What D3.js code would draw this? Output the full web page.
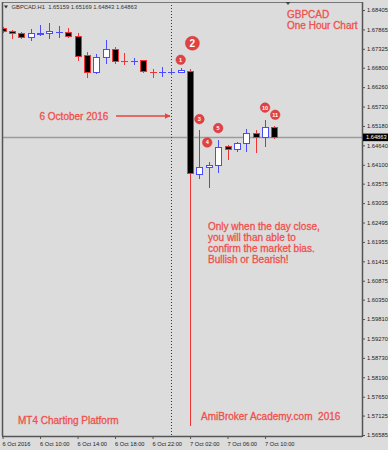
<!DOCTYPE html>
<html><head><meta charset="utf-8">
<script src="https://cdn.jsdelivr.net/npm/d3@7"></script>
<style>
html,body{margin:0;padding:0;background:#dcdcdc;}
svg{display:block;font-family:"Liberation Sans",Arial,sans-serif;}
</style></head>
<body>
<script>
// ---- data ----
const times = ["2016-10-06T06:00","2016-10-06T07:00","2016-10-06T08:00","2016-10-06T09:00","2016-10-06T10:00",
"2016-10-06T11:00","2016-10-06T12:00","2016-10-06T13:00","2016-10-06T14:00","2016-10-06T15:00",
"2016-10-06T16:00","2016-10-06T17:00","2016-10-06T18:00","2016-10-06T19:00","2016-10-06T20:00",
"2016-10-06T21:00","2016-10-06T22:00","2016-10-06T23:00","2016-10-07T00:00","2016-10-07T01:00",
"2016-10-07T02:00","2016-10-07T03:00","2016-10-07T04:00","2016-10-07T05:00","2016-10-07T06:00",
"2016-10-07T07:00","2016-10-07T08:00","2016-10-07T09:00","2016-10-07T10:00","2016-10-07T11:00"];
const open  = [1.6790,1.6782,1.6777,1.6765,1.6775,1.6776,1.6778,1.6779,1.6768,1.6715,1.6668,1.6710,1.6732,1.6699,1.6698,1.6701,1.6669,1.6668,1.6668,1.6668,1.6672,1.6384,1.6403,1.6410,1.6462,1.6455,1.6470,1.6498,1.6486,1.65159];
const high  = [1.6793,1.6785,1.6778,1.6788,1.6799,1.6804,1.6796,1.6790,1.6777,1.6724,1.6718,1.6757,1.6738,1.6721,1.6707,1.6702,1.6677,1.6682,1.6679,1.6679,1.6676,1.6507,1.6419,1.6479,1.6465,1.6474,1.6510,1.6507,1.6535,1.65169];
const low   = [1.6779,1.6763,1.6764,1.6757,1.6772,1.6763,1.6765,1.6765,1.6702,1.6654,1.6665,1.6693,1.6693,1.6690,1.6690,1.6668,1.6654,1.6657,1.6663,1.6668,1.5685,1.6373,1.6348,1.6389,1.6425,1.6449,1.6449,1.6445,1.6462,1.64843];
const close = [1.6782,1.6777,1.6765,1.6777,1.6776,1.6782,1.6779,1.6768,1.6713,1.6668,1.6710,1.6732,1.6699,1.6698,1.6699,1.6671,1.6668,1.6669,1.6669,1.6674,1.6387,1.6405,1.6410,1.6460,1.6455,1.6470,1.6498,1.6486,1.6516,1.64863];
const priceTicks = [1.68405,1.67865,1.67325,1.66800,1.66260,1.65720,1.65180,1.64640,1.64100,1.63575,1.63035,1.62495,1.61955,1.61415,1.60875,1.60350,1.59810,1.59270,1.58730,1.58190,1.57650,1.57125,1.56585];
const timeTicks = ["2016-10-06T06:00","2016-10-06T10:00","2016-10-06T14:00","2016-10-06T18:00","2016-10-06T22:00","2016-10-07T02:00","2016-10-07T06:00","2016-10-07T10:00"];
const timeTickLabels = ["6 Oct 2016","6 Oct 10:00","6 Oct 14:00","6 Oct 18:00","6 Oct 22:00","7 Oct 02:00","7 Oct 06:00","7 Oct 10:00"];
const markerLabels = ["1","2","3","4","5","10","11"];
const markerTimes  = ["2016-10-07T01:00","2016-10-07T02:15","2016-10-07T03:00","2016-10-07T03:50","2016-10-07T05:00","2016-10-07T10:00","2016-10-07T11:05"];
const markerPrices = [1.6702,1.6748,1.6537,1.6472,1.6512,1.6569,1.6549];
const symbol = "GBPCAD.H1";
const lastPrice = 1.64863;
const daySeparator = "2016-10-07T00:00";

// ---- layout ----
const W = 388, H = 450;
const plot = {l:2, t:2, r:362, b:436};
const parse = d3.isoParse;
const bull = "#4a4aff", bear = "#ee3434", txtRed = "#f0504c";

const svg = d3.select("body").append("svg").attr("width", W).attr("height", H);
svg.append("rect").attr("width", W).attr("height", H).attr("fill", "#dcdcdc");

const x = d3.scaleTime()
  .domain([parse("2016-10-06T06:00"), parse("2016-10-07T11:00")])
  .range([2.55, 2.55 + 29 * 9.375]);
const y = d3.scaleLinear().domain([1.56585, 1.68405]).range([435, 10]);

svg.append("clipPath").attr("id","clip").append("rect")
  .attr("x", plot.l).attr("y", plot.t).attr("width", plot.r - plot.l).attr("height", plot.b - plot.t);
const g = svg.append("g").attr("clip-path","url(#clip)");

// current price line
g.append("line").attr("x1", plot.l).attr("x2", plot.r)
  .attr("y1", Math.round(y(lastPrice)) + 0.5).attr("y2", Math.round(y(lastPrice)) + 0.5)
  .attr("stroke", "#9c9c9c").attr("stroke-width", 1.5);

// day separator
const sx = Math.round(x(parse(daySeparator))) + 0.5;
g.append("line").attr("x1", sx).attr("x2", sx).attr("y1", plot.t).attr("y2", plot.b)
  .attr("stroke", "#3a3a3a").attr("stroke-width", 1).attr("stroke-dasharray", "1,2");

// candles
const bars = times.map((t, i) => ({t: parse(t), o: open[i], h: high[i], l: low[i], c: close[i]}));
const cg = g.append("g").attr("shape-rendering", "crispEdges");
bars.forEach(d => {
  const cx = Math.round(x(d.t));
  const up = d.c >= d.o;
  const col = up ? bull : bear;
  cg.append("line").attr("x1", cx + 0.5).attr("x2", cx + 0.5)
    .attr("y1", Math.round(y(d.h))).attr("y2", Math.round(y(d.l)) + 1)
    .attr("stroke", col).attr("stroke-width", 1);
  const top = Math.round(y(Math.max(d.o, d.c))), bot = Math.round(y(Math.min(d.o, d.c)));
  if (bot - top < 1) {
    cg.append("line").attr("x1", cx - 3).attr("x2", cx + 4)
      .attr("y1", top + 0.5).attr("y2", top + 0.5).attr("stroke", col);
  } else {
    cg.append("rect").attr("x", cx - 2.5).attr("y", top + 0.5)
      .attr("width", 6).attr("height", bot - top)
      .attr("fill", up ? "#ffffff" : "#000000").attr("stroke", col).attr("stroke-width", 1);
  }
});

// frame
svg.append("path").attr("d", `M${plot.l + 0.5},${plot.t + 0.5}H${plot.r + 0.5}V${plot.b + 0.5}H${plot.l + 0.5}Z`)
  .attr("fill", "none").attr("stroke", "#777").attr("stroke-width", 1).attr("shape-rendering","crispEdges");
svg.append("line").attr("x1", plot.r + 0.5).attr("x2", plot.r + 0.5).attr("y1", plot.t).attr("y2", plot.b + 1)
  .attr("stroke", "#555").attr("stroke-width", 1.5);
svg.append("line").attr("x1", plot.l).attr("x2", plot.r).attr("y1", plot.b + 0.5).attr("y2", plot.b + 0.5)
  .attr("stroke", "#555").attr("stroke-width", 1.5);
svg.append("line").attr("x1", plot.l + 0.5).attr("x2", plot.l + 0.5).attr("y1", plot.t).attr("y2", plot.b)
  .attr("stroke", "#555").attr("stroke-width", 1.5);

// right axis
const ya = svg.append("g").attr("transform", `translate(${plot.r + 1},0)`)
  .call(d3.axisRight(y).tickValues(priceTicks).tickFormat(d3.format(".5f")).tickSize(2).tickPadding(2));
ya.select(".domain").remove();
ya.selectAll("line").attr("stroke", "#555");
ya.selectAll("text").attr("font-size", 5.8).attr("fill", "#222").attr("font-family", "Liberation Sans, Arial");

// bottom axis
const xa = svg.append("g").attr("transform", `translate(0,${plot.b + 1})`)
  .call(d3.axisBottom(x).tickValues(timeTicks.map(parse))
    .tickFormat((d, i) => timeTickLabels[i]).tickSize(2).tickPadding(3));
xa.select(".domain").remove();
xa.selectAll("line").attr("stroke", "#555");
xa.selectAll("text").attr("font-size", 5.7).attr("fill", "#222").attr("text-anchor", "start")
  .attr("dx", -0.5).attr("font-family", "Liberation Sans, Arial");

// last price label
const ly = y(lastPrice);
svg.append("rect").attr("x", plot.r + 1).attr("y", ly - 3.8).attr("width", W - plot.r - 1).attr("height", 7.6).attr("fill", "#000");
svg.append("text").attr("x", plot.r + 4).attr("y", ly + 2).attr("font-size", 5.7).attr("fill", "#fff")
  .text(d3.format(".5f")(lastPrice));

// header
svg.append("path").attr("d", "M4,5.5 L8,5.5 L6,8.5 Z").attr("fill", "#333");
svg.append("text").attr("x", 11.5).attr("y", 9).attr("font-size", 5.8).attr("fill", "#333")
  .attr("xml:space","preserve")
  .text(`${symbol}  ${d3.format(".5f")(open[29])} ${d3.format(".5f")(high[29])} ${d3.format(".5f")(low[29])} ${d3.format(".5f")(close[29])}`);
// shift marker
svg.append("path").attr("d", "M285.5,2 L290.5,2 L288,5 Z").attr("fill", "#444");

// annotations
const ann = svg.append("g").attr("font-size", 10).attr("fill", txtRed)
  .attr("stroke", txtRed).attr("stroke-width", 0.3);
ann.append("text").attr("x", 287).attr("y", 17.8).text("GBPCAD");
ann.append("text").attr("x", 287).attr("y", 29.2).text("One Hour Chart");
ann.append("text").attr("x", 39.5).attr("y", 119.5).text("6 October 2016");
["Only when the day close,","you will than able to","confirm the market bias.","Bullish or Bearish!"]
  .forEach((s, i) => ann.append("text").attr("x", 208).attr("y", 229.5 + i * 11).text(s));
ann.append("text").attr("x", 18).attr("y", 424.3).text("MT4 Charting Platform");
ann.append("text").attr("x", 201).attr("y", 420.3).attr("xml:space","preserve").text("AmiBroker Academy.com  2016");

// arrow
svg.append("defs").append("marker").attr("id","ah").attr("viewBox","0 0 10 10").attr("refX",9).attr("refY",5)
  .attr("markerWidth",4).attr("markerHeight",4).attr("orient","auto")
  .append("path").attr("d","M0,0 L10,5 L0,10 Z").attr("fill", "#e8453f");
svg.append("line").attr("x1", 116).attr("x2", 170).attr("y1", 116).attr("y2", 116)
  .attr("stroke", "#e8453f").attr("stroke-width", 1.5).attr("marker-end", "url(#ah)");

// numbered markers
markerLabels.forEach((lab, i) => {
  const mx = x(parse(markerTimes[i])), my = y(markerPrices[i]);
  const big = lab === "2";
  const r = big ? 7 : 4.8;
  svg.append("circle").attr("cx", mx).attr("cy", my).attr("r", r).attr("fill", "#e04242")
    .attr("stroke", "#d43a3a").attr("stroke-width", 0.5);
  svg.append("text").attr("x", mx).attr("y", my + (big ? 3.5 : 2))
    .attr("text-anchor", "middle").attr("font-size", big ? 10 : 5.6).attr("font-weight", "bold")
    .attr("fill", "#fff").text(lab);
});
</script>
</body></html>
